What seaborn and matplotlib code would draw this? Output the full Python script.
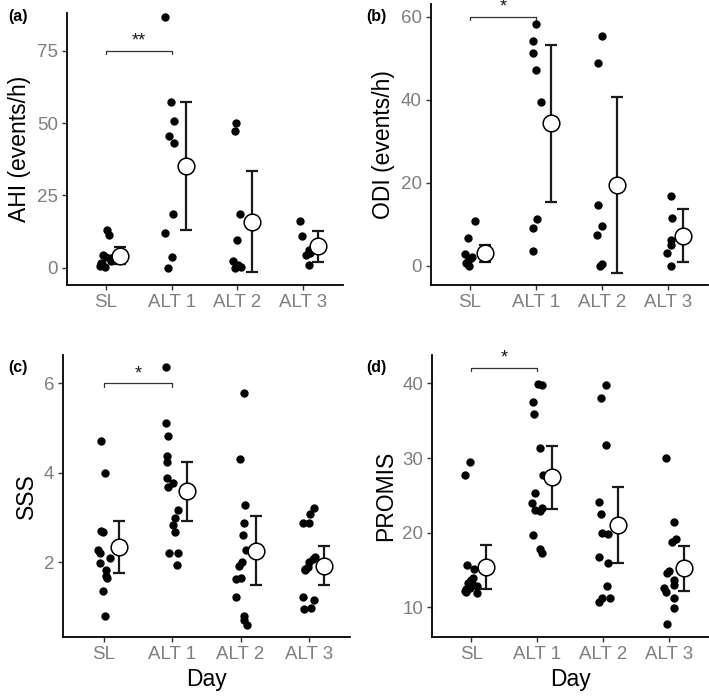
import numpy as np
import pandas as pd
import matplotlib
matplotlib.use("Agg")
import matplotlib.pyplot as plt
import seaborn as sns

days = ["SL", "ALT 1", "ALT 2", "ALT 3"]

# individual values
ahi_sl = [13.2, 11.3, 4.6, 3.9, 3.4, 2.4, 1.7, 1.2, 0.7, 0.2]
ahi_alt1 = [86.7, 57.1, 50.8, 45.4, 43.1, 18.6, 12.1, 3.8, 0.0]
ahi_alt2 = [50.0, 47.4, 18.7, 9.5, 2.5, 1.0, 0.3, 0.0]
ahi_alt3 = [16.1, 11.1, 6.3, 5.2, 4.4, 1.1]
ahi_mean = [4.2, 35.2, 16.0, 7.5]
ahi_ci = [2.9, 22.1, 17.5, 5.4]

odi_sl = [10.8, 6.7, 2.8, 2.2, 1.8, 1.2, 0.6, 0.0]
odi_alt1 = [58.2, 54.2, 51.2, 47.1, 39.4, 11.2, 9.0, 3.6]
odi_alt2 = [55.3, 48.9, 14.6, 9.6, 7.4, 0.4, 0.0]
odi_alt3 = [16.8, 11.6, 6.3, 5.1, 3.1, 0.0]
odi_mean = [3.0, 34.3, 19.5, 7.2]
odi_ci = [2.0, 18.9, 21.2, 6.4]

sss_sl = [4.70, 3.99, 2.70, 2.67, 2.27, 2.20, 2.10, 1.99, 1.83, 1.69, 1.66, 1.36, 0.80]
sss_alt1 = [6.36, 5.11, 4.82, 4.38, 4.25, 3.88, 3.77, 3.69, 3.17, 3.00, 2.83, 2.68, 2.21, 2.21, 1.94]
sss_alt2 = [5.79, 4.31, 3.29, 2.87, 2.61, 2.27, 2.01, 1.92, 1.66, 1.62, 1.22, 0.81, 0.71, 0.61]
sss_alt3 = [3.21, 3.07, 2.88, 2.87, 2.13, 2.07, 2.01, 1.90, 1.86, 1.83, 1.23, 1.17, 0.97, 0.96]
sss_mean = [2.34, 3.59, 2.26, 1.93]
sss_ci = [0.58, 0.66, 0.77, 0.44]

promis_sl = [29.4, 27.7, 15.7, 15.1, 13.9, 13.6, 13.3, 13.0, 12.8, 12.6, 12.4, 12.2, 12.0, 11.9]
promis_alt1 = [39.9, 39.8, 37.5, 35.9, 31.4, 27.7, 25.3, 24.0, 23.3, 23.1, 22.9, 19.7, 17.8, 17.3]
promis_alt2 = [39.8, 38.0, 31.7, 24.1, 22.5, 19.9, 19.8, 16.8, 15.9, 12.9, 11.3, 11.3, 10.7]
promis_alt3 = [30.0, 21.4, 19.1, 18.8, 14.9, 14.6, 13.7, 13.0, 12.6, 12.0, 11.2, 9.9, 7.8]
promis_mean = [15.4, 27.4, 21.0, 15.2]
promis_ci = [3.0, 4.2, 5.1, 3.0]

# significance brackets (SL vs ALT 1)
sig_labels = ["**", "*", "*", "*"]
sig_heights = [75, 60, 6, 42.1]


def long_df(groups):
    rows = []
    for d, vals in zip(days, groups):
        for v in vals:
            rows.append({"Day": d, "value": v})
    return pd.DataFrame(rows)


panels = [
    dict(tag="(a)", ylabel="AHI (events/h)", data=[ahi_sl, ahi_alt1, ahi_alt2, ahi_alt3],
         mean=ahi_mean, ci=ahi_ci, ylim=(-5.9, 88), yticks=[0, 25, 50, 75],
         pos=[0.0945, 0.5917, 0.389, 0.3897], xlabel=None, tagxy=(8, 17)),
    dict(tag="(b)", ylabel="ODI (events/h)", data=[odi_sl, odi_alt1, odi_alt2, odi_alt3],
         mean=odi_mean, ci=odi_ci, ylim=(-4.65, 63.1), yticks=[0, 20, 40, 60],
         pos=[0.6079, 0.5917, 0.3907, 0.4026], xlabel=None, tagxy=(366, 17)),
    dict(tag="(c)", ylabel="SSS", data=[sss_sl, sss_alt1, sss_alt2, sss_alt3],
         mean=sss_mean, ci=sss_ci, ylim=(0.34, 6.63), yticks=[2, 4, 6],
         pos=[0.0893, 0.0878, 0.4044, 0.4036], xlabel="Day", tagxy=(8, 368)),
    dict(tag="(d)", ylabel="PROMIS", data=[promis_sl, promis_alt1, promis_alt2, promis_alt3],
         mean=promis_mean, ci=promis_ci, ylim=(6.06, 43.8), yticks=[10, 20, 30, 40],
         pos=[0.6097, 0.0878, 0.3903, 0.4036], xlabel="Day", tagxy=(366, 368)),
]

sns.set_theme(style="white")
plt.rcParams["font.family"] = ["Liberation Sans", "DejaVu Sans"]

W, H = 709, 698
fig = plt.figure(figsize=(W / 100, H / 100), dpi=100)
np.random.seed(3)

for i, p in enumerate(panels):
    ax = fig.add_axes(p["pos"])
    df = long_df(p["data"])
    sns.stripplot(data=df, x="Day", y="value", order=days, color="black",
                  size=6, jitter=0.1, linewidth=0, ax=ax, zorder=3)
    xm = np.arange(len(days)) + 0.22
    ax.errorbar(xm, p["mean"], yerr=p["ci"], fmt="none", ecolor="#1a1a1a",
                elinewidth=1.6, capsize=4.5, capthick=1.6, zorder=4)
    ax.plot(xm, p["mean"], "o", ms=12, mfc="white", mec="black", mew=1.1,
            zorder=5, linestyle="none")

    # bracket
    y0, y1 = p["ylim"]
    h = sig_heights[i]
    tick = 0.012 * (y1 - y0)
    ax.plot([0, 0, 1, 1], [h - tick, h, h, h - tick], color="#333333", lw=0.9,
            zorder=2, clip_on=False)
    ax.text(0.5, h + 0.004 * (y1 - y0), sig_labels[i], ha="center", va="bottom",
            fontsize=13, color="#1a1a1a")

    ax.set_xlim(-0.59, 3.6)
    ax.set_ylim(*p["ylim"])
    ax.set_yticks(p["yticks"])
    ax.set_ylabel(p["ylabel"], fontsize=16.5, color="black", labelpad=4)
    if p["xlabel"]:
        ax.set_xlabel(p["xlabel"], fontsize=16.5, color="black", labelpad=4)
    else:
        ax.set_xlabel("")
    for side in ["top", "right"]:
        ax.spines[side].set_visible(False)
    for side in ["left", "bottom"]:
        ax.spines[side].set_color("black")
        ax.spines[side].set_linewidth(1.3)
    ax.tick_params(axis="both", which="major", length=3.5, width=1.0,
                   color="#333333", labelcolor="#7f7f7f", labelsize=13.5,
                   left=True, bottom=True, pad=3)
    ax.grid(False)
    ax.set_facecolor("white")

    tx, ty = p["tagxy"]
    fig.text(tx / W, 1 - ty / H, p["tag"], fontsize=11.5, fontweight="bold",
             color="black", va="center", ha="left")

fig.savefig("out.png", dpi=100, facecolor="white")
